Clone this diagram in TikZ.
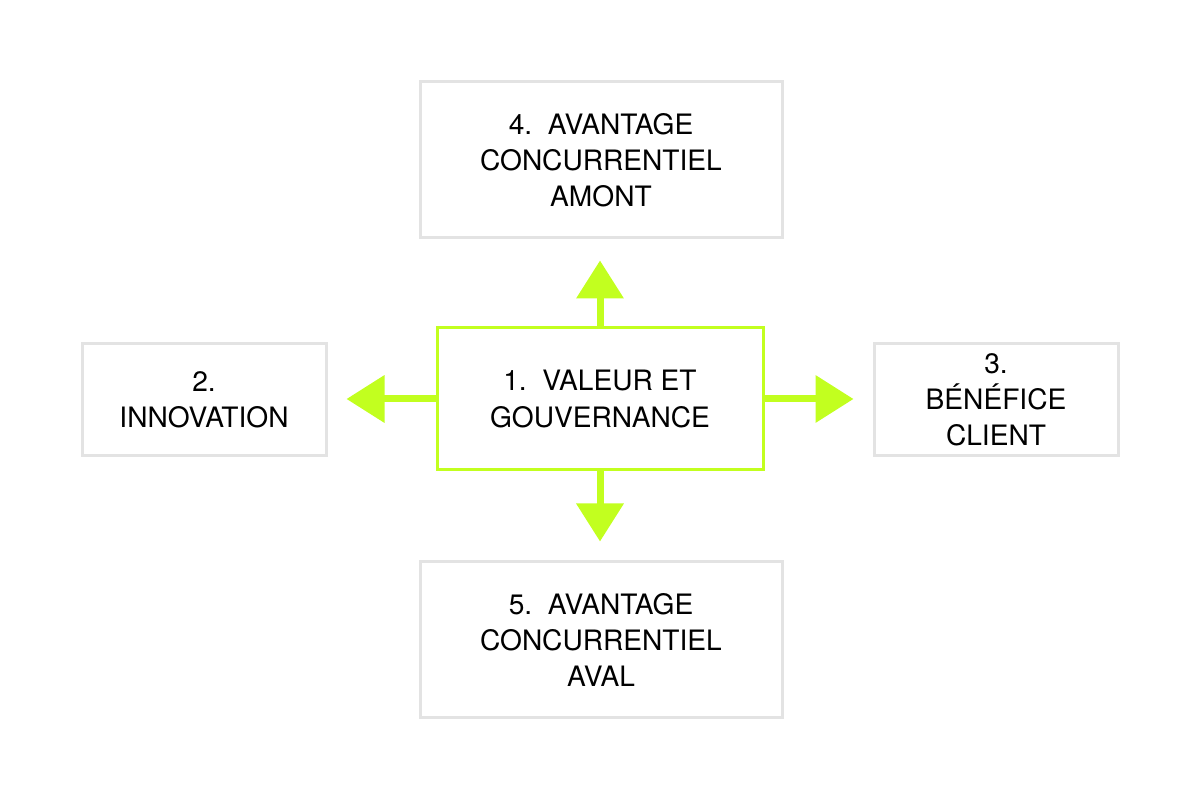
\documentclass[tikz,border=0pt]{standalone}
\usepackage{fontspec}
\setmainfont{TeX Gyre Heros}
\usetikzlibrary{arrows.meta}
\definecolor{lime}{HTML}{C2FF1F}
\definecolor{boxgray}{HTML}{E3E3E3}
\tikzset{
    box/.style = {draw = boxgray, line width = 0.06cm, align = center, inner sep = 0pt, font = \fontsize{16}{20.5}\selectfont},
    arrow/.style = {draw = lime, line width = 0.14cm, -{Triangle[width = 0.92cm, length = 0.76cm]}}
}
\begin{document}
\begin{tikzpicture}
    \useasboundingbox (0,0) rectangle (24,16);
    \node [box, draw = lime, minimum width = 6.52cm, minimum height = 2.84cm] (valeur) at (12, 8.02) {1.\ \ VALEUR ET\\GOUVERNANCE};
    \node [box, minimum width = 7.24cm, minimum height = 3.12cm] (amont) at (12.02, 12.8) {4.\ \ AVANTAGE\\CONCURRENTIEL\\AMONT};
    \node [box, minimum width = 7.24cm, minimum height = 3.12cm] (aval) at (12.02, 3.2) {5.\ \ AVANTAGE\\CONCURRENTIEL\\AVAL};
    \node [box, minimum width = 4.88cm, minimum height = 2.24cm] (innov) at (4.08, 8) {2.\\INNOVATION};
    \node [box, minimum width = 4.88cm, minimum height = 2.24cm] (client) at (19.92, 8) {3.\\BÉNÉFICE\\CLIENT};
    \draw [arrow] (valeur.north) -- ++(0, 1.32);
    \draw [arrow] (valeur.south) -- ++(0, -1.4);
    \draw [arrow] (valeur.west) -- ++(-1.78, 0);
    \draw [arrow] (valeur.east) -- ++(1.78, 0);
\end{tikzpicture}
\end{document}
